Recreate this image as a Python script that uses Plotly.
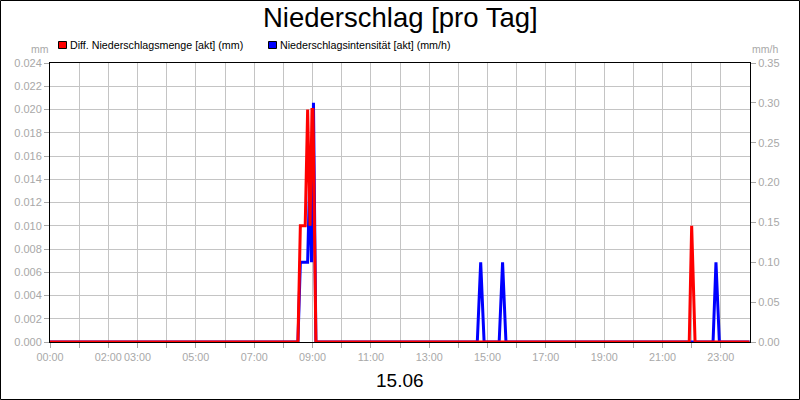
import plotly.graph_objects as go

day = "2023-06-15"

# Diff. Niederschlagsmenge [akt] (mm) - left axis
menge_times = ["00:00", "08:30", "08:35", "08:45", "08:50", "08:55", "08:59", "09:01", "09:07",
               "21:55", "22:00", "22:07", "23:59"]
menge_values = [0, 0, 0.010, 0.010, 0.020, 0.010, 0.020, 0.020, 0,
                0, 0.010, 0, 0]

# Niederschlagsintensität [akt] (mm/h) - right axis
intens_times = ["00:00", "08:30", "08:35", "08:50", "08:54", "08:58", "09:02", "09:07",
                "14:39", "14:46", "14:53", "15:24", "15:31", "15:38",
                "22:44", "22:50", "22:57", "23:59"]
intens_values = [0, 0, 0.10, 0.10, 0.20, 0.10, 0.30, 0,
                 0, 0.10, 0, 0, 0.10, 0,
                 0, 0.10, 0, 0]

labelled_hours = [0, 2, 3, 5, 7, 9, 11, 13, 15, 17, 19, 21, 23]

FONT = "Liberation Sans, Arial, sans-serif"
GRAY = "#a8a8a8"
GRID = "#c4c4c4"

# plot area in pixels
L, R, T, B = 50, 750, 63, 342


def px(x):
    return (x - L) / (R - L)


def py(y):
    return (B - y) / (B - T)


hour_vals = [f"{day} {h:02d}:00" for h in range(24)]
hour_text = [f"{h:02d}:00" if h in labelled_hours else "" for h in range(24)]

fig = go.Figure()
# blue on the base (right) axis, red on the overlaying (left) axis so red draws on top
fig.add_trace(go.Scatter(
    x=[f"{day} {t}" for t in intens_times], y=intens_values, yaxis="y",
    mode="lines", line=dict(color="#0000ff", width=3), showlegend=False))
fig.add_trace(go.Scatter(
    x=[f"{day} {t}" for t in menge_times], y=menge_values, yaxis="y2",
    mode="lines", line=dict(color="#ff0000", width=3), showlegend=False))

fig.update_layout(
    width=800, height=400,
    margin=dict(l=L, r=800 - R, t=T, b=400 - B, autoexpand=False),
    paper_bgcolor="white", plot_bgcolor="white",
    font=dict(family=FONT, size=11, color=GRAY),
    xaxis=dict(
        range=[f"{day} 00:00", "2023-06-16 00:00"],
        tickvals=hour_vals, ticktext=hour_text, tickangle=0,
        showgrid=True, gridcolor=GRID, gridwidth=1,
        ticks="outside", ticklen=5, tickcolor=GRAY,
        showline=True, linecolor="black", linewidth=1, mirror=True,
        tickfont=dict(family=FONT, size=10.8, color=GRAY),
        zeroline=False, automargin=False,
    ),
    yaxis=dict(
        range=[0, 0.35], dtick=0.05, tickformat=".2f",
        side="right", showgrid=False,
        ticks="outside", ticklen=5, tickcolor=GRAY,
        showline=True, linecolor="black", linewidth=1,
        tickfont=dict(family=FONT, size=11, color=GRAY),
        zeroline=False, automargin=False,
    ),
    yaxis2=dict(
        range=[0, 0.024], dtick=0.002, tickformat=".3f",
        overlaying="y", side="left",
        showgrid=True, gridcolor=GRID, gridwidth=1,
        ticks="outside", ticklen=5, tickcolor=GRAY,
        showline=True, linecolor="black", linewidth=1,
        tickfont=dict(family=FONT, size=11, color=GRAY),
        zeroline=False, automargin=False,
    ),
)

ann = [
    dict(text="Niederschlag [pro Tag]", x=px(400), y=py(18), xanchor="center", yanchor="middle",
         font=dict(family=FONT, size=27.5, color="black")),
    dict(text="Diff. Niederschlagsmenge [akt] (mm)", x=px(68), y=py(45), xanchor="left", yanchor="middle",
         font=dict(family=FONT, size=10.7, color="black")),
    dict(text="Niederschlagsintensität [akt] (mm/h)", x=px(278), y=py(45), xanchor="left", yanchor="middle",
         font=dict(family=FONT, size=10.7, color="black")),
    dict(text="mm", x=px(40), y=py(49), xanchor="center", yanchor="middle",
         font=dict(family=FONT, size=10.5, color=GRAY)),
    dict(text="mm/h", x=px(765), y=py(49), xanchor="center", yanchor="middle",
         font=dict(family=FONT, size=10.5, color=GRAY)),
    dict(text="15.06", x=px(400), y=py(380), xanchor="center", yanchor="middle",
         font=dict(family=FONT, size=19, color="black")),
]
for a in ann:
    a.update(xref="paper", yref="paper", showarrow=False)
fig.update_layout(annotations=ann)

shapes = [
    # outer frame
    dict(type="rect", x0=px(0.5), x1=px(799.5), y0=py(399.5), y1=py(0.5),
         line=dict(color="black", width=1)),
    # legend squares
    dict(type="rect", x0=px(58.5), x1=px(66.5), y0=py(48.5), y1=py(41.5),
         fillcolor="#ff0000", line=dict(color="black", width=1)),
    dict(type="rect", x0=px(268.5), x1=px(276.5), y0=py(48.5), y1=py(41.5),
         fillcolor="#0000ff", line=dict(color="black", width=1)),
]
for s in shapes:
    s.update(xref="paper", yref="paper")
fig.update_layout(shapes=shapes)

# page body has an 8px default margin; drop it so the chart sits at 0,0
fig.write_html("out.html", config={"displayModeBar": False},
               post_script="document.body.style.margin='0';document.body.style.overflow='hidden';")
